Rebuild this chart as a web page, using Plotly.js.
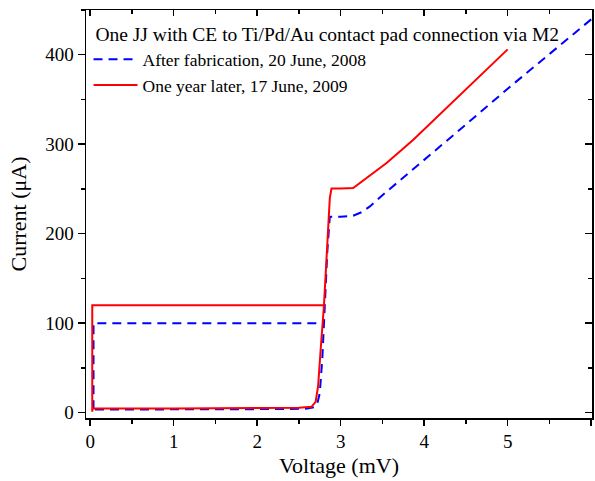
<!DOCTYPE html>
<html>
<head>
<meta charset="utf-8">
<script src="https://cdn.plot.ly/plotly-3.0.1.min.js"></script>
<style>html,body{margin:0;padding:0;background:#fff;}#chart{width:595px;height:481px;}</style>
</head>
<body>
<div id="chart"></div>
<script>
// Blue: After fabrication (path: quasiparticle branch down -> subgap -> supercurrent -> switching)
const blueV = [6.0, 5.5, 5.0, 4.5, 3.95, 3.67, 3.5, 3.35, 3.25, 3.15, 3.0, 2.87, 2.84, 2.81, 2.78, 2.75, 2.72, 2.68, 2.6, 2.3, 1.5, 0.6, 0.04, 0.04, 0.04, 2.77];
const blueI = [439.5, 401, 362, 322, 279, 257, 243, 230.5, 224, 220, 219, 219, 180, 120, 60, 22, 10, 6, 4.5, 4, 3.8, 3.5, 3.4, 1, 100, 100];
// Red: One year later
const redV = [5.0, 4.5, 4.19, 3.87, 3.55, 3.27, 3.15, 3.0, 2.89, 2.87, 2.84, 2.80, 2.76, 2.73, 2.70, 2.65, 2.5, 2.0, 1.0, 0.025, 0.025, 0.025, 2.80];
const redI = [406, 361, 333, 305, 279, 259, 251, 250.5, 250.5, 240, 190, 120, 70, 30, 12, 6.5, 5.5, 5, 4.7, 4.5, 1, 120, 120];

const legendTitle = "\u00a0One JJ with CE to Ti/Pd/Au contact pad connection via M2";
const blueName = "After fabrication, 20 June, 2008";
const redName = "One year later, 17 June, 2009";
const xTitle = "Voltage (mV)";
const yTitle = "Current (\u03bcA)";

const font = "Liberation Serif, Times New Roman, serif";

const traces = [
  {x: blueV, y: blueI, mode: 'lines', name: blueName,
   line: {color: '#0000ff', width: 2, dash: '9px,6px'}},
  {x: redV, y: redI, mode: 'lines', name: redName,
   line: {color: '#ff0000', width: 2}},
  {x: [], y: [], xaxis: 'x2', yaxis: 'y2', showlegend: false, hoverinfo: 'skip'}
];

const xr = [-0.05, 6.01];
const yr = [-6, 450];

const layout = {
  width: 595, height: 481,
  margin: {l: 86, r: 3, t: 10, b: 63},
  paper_bgcolor: '#fff', plot_bgcolor: '#fff',
  font: {family: font, color: '#000'},
  showlegend: true,
  legend: {
    x: 0.005, y: 0.985, xanchor: 'left', yanchor: 'top',
    bgcolor: 'rgba(0,0,0,0)', borderwidth: 0,
    font: {family: font, size: 17.5, color: '#000'},
    title: {text: legendTitle, font: {family: font, size: 19.5, color: '#000'}, side: 'top'},
    tracegroupgap: 0, itemwidth: 44
  },
  xaxis: {
    range: xr, showgrid: false, zeroline: false,
    showline: true, linecolor: '#000', linewidth: 1.5,
    ticks: 'outside', ticklen: 6, tickwidth: 1.5, tickcolor: '#000',
    dtick: 1, tick0: 0,
    minor: {dtick: 0.5, tick0: 0, ticks: 'outside', ticklen: 4, tickwidth: 1.5, tickcolor: '#000', showgrid: false},
    tickfont: {family: font, size: 19},
    title: {text: xTitle, font: {family: font, size: 22}, standoff: 6}
  },
  yaxis: {
    range: yr, showgrid: false, zeroline: false,
    showline: true, linecolor: '#000', linewidth: 1.5,
    ticks: 'outside', ticklen: 7, tickwidth: 1.5, tickcolor: '#000',
    dtick: 100, tick0: 0,
    minor: {dtick: 50, tick0: 0, ticks: 'outside', ticklen: 4, tickwidth: 1.5, tickcolor: '#000', showgrid: false},
    tickfont: {family: font, size: 19},
    title: {text: yTitle, font: {family: font, size: 22}, standoff: 12}
  },
  xaxis2: {
    overlaying: 'x', side: 'top', anchor: 'y2', range: xr,
    showgrid: false, zeroline: false, showticklabels: false,
    showline: true, linecolor: '#000', linewidth: 1.5,
    ticks: 'inside', ticklen: 6, tickwidth: 1.5, tickcolor: '#000', dtick: 1, tick0: 0,
    minor: {dtick: 0.5, tick0: 0, ticks: 'inside', ticklen: 4, tickwidth: 1.5, tickcolor: '#000', showgrid: false}
  },
  yaxis2: {
    overlaying: 'y', side: 'right', anchor: 'x2', range: yr,
    showgrid: false, zeroline: false, showticklabels: false,
    showline: true, linecolor: '#000', linewidth: 1.5,
    ticks: 'inside', ticklen: 7, tickwidth: 1.5, tickcolor: '#000', dtick: 100, tick0: 0,
    minor: {dtick: 50, tick0: 0, ticks: 'inside', ticklen: 4, tickwidth: 1.5, tickcolor: '#000', showgrid: false}
  }
};

Plotly.newPlot('chart', traces, layout, {displayModeBar: false, staticPlot: true});
</script>
</body>
</html>
